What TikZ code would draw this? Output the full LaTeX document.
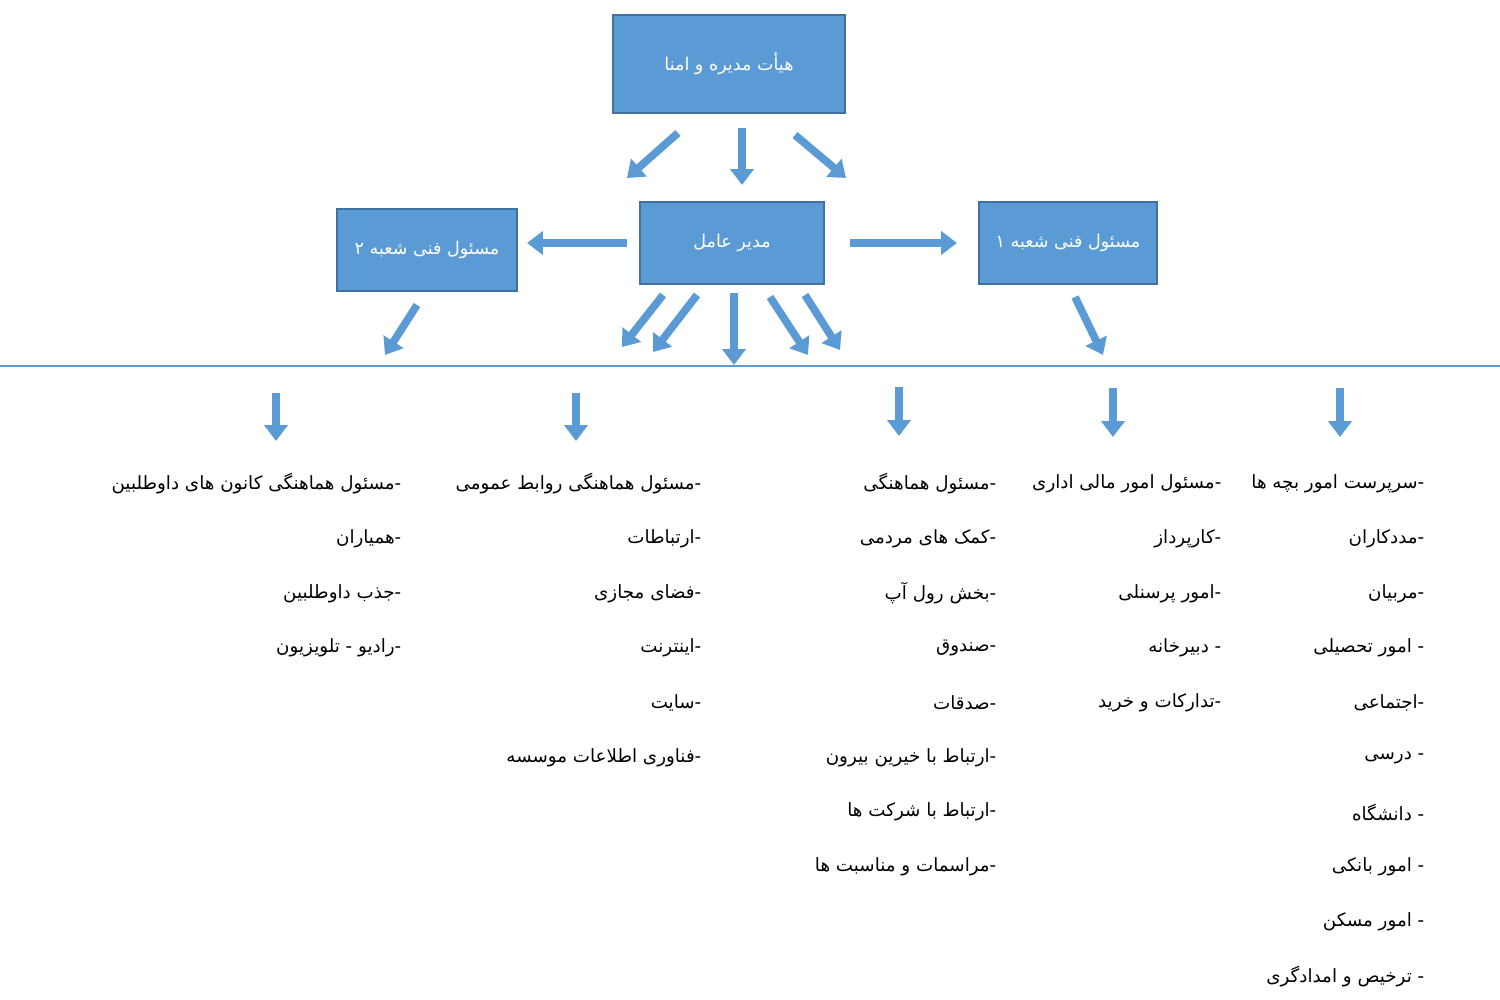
\documentclass[tikz,border=0pt]{standalone}
\usepackage{fontspec}
\newfontfamily\arabicfont[Script=Arabic]{DejaVu Sans}
\TeXXeTstate=1
\usetikzlibrary{arrows.meta,positioning}
\definecolor{boxfill}{RGB}{91,155,213}
\definecolor{boxline}{RGB}{65,113,156}

\begin{document}
\begin{tikzpicture}[
    box/.style={rectangle, draw=boxline, line width=0.6pt, fill=boxfill, text=white, font=\arabicfont\fontsize{5}{6}\selectfont},
    blk/.style={boxfill, line width=2.2pt, -{Triangle[width=6.5pt,length=4.5pt]}},
    item/.style={anchor=east, inner sep=0pt, font=\arabicfont\fontsize{5.2}{6}\selectfont}
]
\useasboundingbox (0,0) rectangle (15,-10);

% Boxes
\node[box, minimum width=2.32cm, minimum height=0.98cm] (board) at (7.29,-0.64) {\beginR هیأت مدیره و امنا\endR};
\node[box, minimum width=1.84cm, minimum height=0.82cm] (ceo) at (7.32,-2.43) {\beginR مدیر عامل\endR};
\node[box, minimum width=1.80cm, minimum height=0.82cm] (br2) at (4.27,-2.50) {\beginR مسئول فنی شعبه ۲\endR};
\node[box, minimum width=1.78cm, minimum height=0.82cm] (br1) at (10.68,-2.43) {\beginR مسئول فنی شعبه ۱\endR};

% Block arrows
\draw[blk] (6.78,-1.33) -- (6.27,-1.78);
\draw[blk] (7.42,-1.28) -- (7.42,-1.85);
\draw[blk] (7.95,-1.35) -- (8.46,-1.78);
\draw[blk] (6.27,-2.43) -- (5.27,-2.43);
\draw[blk] (8.50,-2.43) -- (9.57,-2.43);
\draw[blk] (4.17,-3.05) -- (3.85,-3.55);
\draw[blk] (6.63,-2.95) -- (6.22,-3.47);
\draw[blk] (6.97,-2.95) -- (6.53,-3.52);
\draw[blk] (7.34,-2.93) -- (7.34,-3.65);
\draw[blk] (7.70,-2.97) -- (8.08,-3.55);
\draw[blk] (8.05,-2.95) -- (8.40,-3.50);
\draw[blk] (10.75,-2.97) -- (11.03,-3.55);

% Divider
\draw[boxfill, line width=0.6pt] (0,-3.66) -- (15,-3.66);

\draw[blk] (2.76,-3.93) -- (2.76,-4.41);
\draw[blk] (5.76,-3.93) -- (5.76,-4.41);
\draw[blk] (8.99,-3.87) -- (8.99,-4.36);
\draw[blk] (11.13,-3.88) -- (11.13,-4.37);
\draw[blk] (13.40,-3.88) -- (13.40,-4.37);

% Lists
\foreach \t [count=\i] in {-سرپرست امور بچه ها, -مددکاران, -مربیان, - امور تحصیلی, -اجتماعی, - درسی, - دانشگاه, - امور بانکی, - امور مسکن, - ترخیص و امدادگری}
  \node[item] (colA\i) at (14.25,{-4.84-0.547*(\i-1)}) {\beginR \t\endR};
\foreach \t [count=\i] in {-مسئول امور مالی اداری, -کارپرداز, -امور پرسنلی, - دبیرخانه, -تدارکات و خرید}
  \node[item] (colB\i) at (12.22,{-4.84-0.547*(\i-1)}) {\beginR \t\endR};
\foreach \t [count=\i] in {-مسئول هماهنگی, -کمک های مردمی, -بخش رول آپ, -صندوق, -صدقات, -ارتباط با خیرین بیرون, -ارتباط با شرکت ها, -مراسمات و مناسبت ها}
  \node[item] (colC\i) at (9.97,{-4.84-0.547*(\i-1)}) {\beginR \t\endR};
\foreach \t [count=\i] in {-مسئول هماهنگی روابط عمومی, -ارتباطات, -فضای مجازی, -اینترنت, -سایت, -فناوری اطلاعات موسسه}
  \node[item] (colD\i) at (7.02,{-4.84-0.547*(\i-1)}) {\beginR \t\endR};
\foreach \t [count=\i] in {-مسئول هماهنگی کانون های داوطلبین, -همیاران, -جذب داوطلبین, -رادیو - تلویزیون}
  \node[item] (colE\i) at (4.02,{-4.84-0.547*(\i-1)}) {\beginR \t\endR};

\end{tikzpicture}
\end{document}
